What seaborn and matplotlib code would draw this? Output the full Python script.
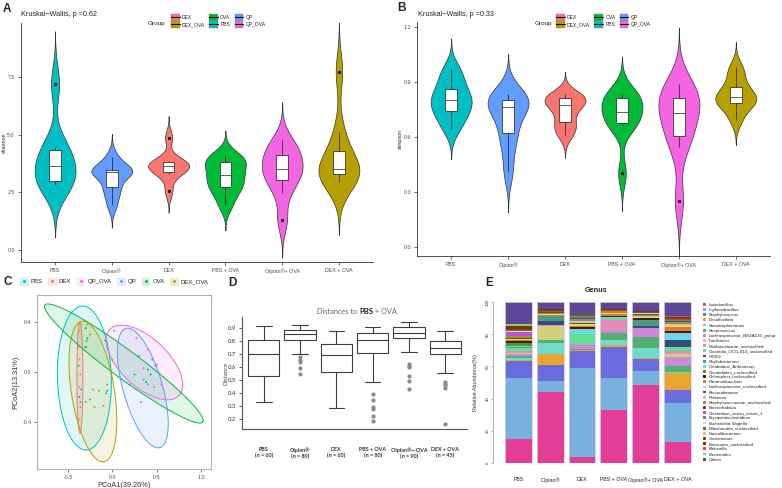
import numpy as np
import pandas as pd
import seaborn as sns
import matplotlib.pyplot as plt
from matplotlib.patches import Patch
from matplotlib.lines import Line2D

# ---------------- groups and colours ----------------
groups = ["PBS", "Oipian®", "DEX", "PBS + OVA", "Oipian®+ OVA", "DEX + OVA"]
group_codes = ["PBS", "QP", "DEX", "OVA", "QP_OVA", "DEX_OVA"]
code_colors = {"DEX": "#F8766D", "DEX_OVA": "#B79F00", "OVA": "#00BA38",
               "PBS": "#00BFC4", "QP": "#619CFF", "QP_OVA": "#F564E3"}
legend_codes = ["DEX", "DEX_OVA", "OVA", "PBS", "QP", "QP_OVA"]

# ---------------- A: shannon per sample ----------------
shannon_pbs = [2.82, 2.90, 3.00, 3.40, 3.90, 4.30, 4.45, 7.20]
shannon_qp = [1.95, 2.50, 2.75, 3.30, 3.37, 3.40, 3.47, 3.55, 4.05]
shannon_dex = [2.56, 3.30, 3.37, 3.60, 3.66, 3.70, 3.80, 3.85, 4.87]
shannon_ova = [1.95, 2.50, 2.75, 3.00, 3.25, 3.50, 3.83, 3.95, 4.07]
shannon_qp_ova = [1.30, 2.49, 3.03, 3.30, 3.50, 3.80, 4.10, 4.40, 4.77]
shannon_dex_ova = [2.96, 3.20, 3.30, 3.40, 3.50, 3.60, 4.31, 5.10, 7.73]

# ---------------- B: simpson per sample ----------------
simpson_pbs = [0.641, 0.700, 0.741, 0.770, 0.800, 0.830, 0.864, 0.920, 0.973]
simpson_qp = [0.410, 0.550, 0.623, 0.700, 0.761, 0.780, 0.804, 0.820, 0.832]
simpson_dex = [0.610, 0.650, 0.683, 0.740, 0.772, 0.790, 0.813, 0.820, 0.832]
simpson_ova = [0.401, 0.665, 0.674, 0.700, 0.737, 0.780, 0.813, 0.825, 0.832]
simpson_qp_ova = [0.252, 0.546, 0.605, 0.680, 0.732, 0.780, 0.810, 0.850, 0.891]
simpson_dex_ova = [0.692, 0.760, 0.783, 0.800, 0.819, 0.840, 0.870, 0.930, 0.982]

# ---------------- C: PCoA points and ellipses ----------------
pcoa_x = {
    "PBS": [-0.37, -0.36, -0.35, -0.07, -0.06, -0.30, -0.29, -0.38, -0.25],
    "DEX": [-0.37, -0.38, -0.37, -0.36, -0.37, -0.38, -0.36, -0.37],
    "QP_OVA": [0.27, 0.40, 0.45, 0.50, 0.55, 0.35, 0.47, 0.00],
    "QP": [0.02, 0.35, 0.48, 0.30, 0.40, 0.32, 0.45, 0.20],
    "OVA": [-0.30, -0.28, -0.30, 0.38, 0.43, 0.25, 0.40, -0.08],
    "DEX_OVA": [-0.28, -0.25, -0.15, -0.22, -0.10, -0.20, -0.30, -0.06],
}
pcoa_y = {
    "PBS": [-0.20, -0.24, -0.14, -0.17, -0.15, 0.20, 0.25, 0.05, -0.22],
    "DEX": [0.33, 0.20, 0.10, -0.02, -0.12, -0.20, -0.28, -0.38],
    "QP_OVA": [0.27, 0.18, 0.10, 0.06, -0.10, 0.03, -0.12, 0.10],
    "QP": [0.33, -0.06, 0.05, 0.13, -0.10, -0.24, 0.10, -0.10],
    "OVA": [0.35, 0.27, 0.20, -0.08, -0.02, -0.02, 0.02, 0.25],
    "DEX_OVA": [0.38, 0.30, -0.15, -0.14, -0.27, -0.28, -0.24, -0.10],
}
ell_groups = ["PBS", "DEX", "QP_OVA", "QP", "OVA", "DEX_OVA"]
ell_cx = [-0.315, -0.365, 0.360, 0.343, 0.129, -0.219]
ell_cy = [-0.048, -0.044, 0.076, -0.128, 0.068, -0.156]
ell_major_x = [0.022, 0.000, 0.389, 0.191, 0.888, 0.124]
ell_major_y = [-0.576, -0.444, -0.265, -0.477, -0.468, -0.562]
ell_minor_x = [-0.303, -0.034, -0.187, -0.213, -0.093, -0.239]
ell_minor_y = [-0.006, 0.000, -0.138, -0.043, -0.090, -0.027]

# ---------------- D: distances to PBS + OVA ----------------
dist_n = [60, 80, 60, 80, 90, 45]
dist_pbs = [0.334, 0.533, 0.701, 0.808, 0.913]
dist_qp = [0.545, 0.595, 0.640, 0.655, 0.675, 0.700, 0.810,
           0.815, 0.820, 0.830, 0.840, 0.845, 0.850,
           0.855, 0.860, 0.865, 0.870, 0.880, 0.885,
           0.890, 0.895, 0.900, 0.910, 0.915, 0.923]
dist_dex = [0.289, 0.559, 0.689, 0.773, 0.877]
dist_ova = [0.187, 0.227, 0.280, 0.292, 0.347, 0.393, 0.485, 0.704,
            0.720, 0.740, 0.760, 0.775, 0.790, 0.800, 0.806,
            0.810, 0.815, 0.825, 0.835, 0.845, 0.850, 0.857,
            0.860, 0.870, 0.880, 0.890, 0.895, 0.900, 0.907]
dist_qp_ova = [0.429, 0.493, 0.533, 0.600, 0.610, 0.620, 0.712, 0.825,
               0.830, 0.835, 0.840, 0.845, 0.850, 0.855, 0.857,
               0.860, 0.865, 0.870, 0.880, 0.890, 0.895, 0.902,
               0.905, 0.910, 0.920, 0.925, 0.930, 0.940, 0.946]
dist_dex_ova = [0.162, 0.437, 0.460, 0.470, 0.483, 0.556, 0.697,
                0.700, 0.710, 0.720, 0.730, 0.735, 0.742,
                0.750, 0.760, 0.770, 0.780, 0.790, 0.798,
                0.810, 0.820, 0.840, 0.860, 0.870, 0.877]

# ---------------- E: genus relative abundance (%) ----------------
genus_names = ["Lactobacillus", "Ligilactobacillus", "Staphylococcus", "Desulfovibrio",
               "Stenotrophomonas", "Streptococcus", "Lachnospiraceae_NK4A136_group",
               "Turicibacter", "Muribaculaceae_unclassified", "Clostridia_UCG-014_unclassified",
               "HT002", "Phyllobacterium", "Candidatus_Arthromitus", "Clostridiales_unclassified",
               "Chloroplast_unclassified", "Paramuribaculum", "Lachnospiraceae_unclassified",
               "Brevundimonas", "Ralstonia", "Staphylococcaceae_unclassified", "Enterorhabdus",
               "Clostridium_sensu_stricto_1", "Erysipelatoclostridium", "Escherichia-Shigella",
               "Mitochondria_unclassified", "Faecalibacterium", "Comamonas",
               "Firmicutes_unclassified", "Klebsiella", "Bacteroides", "Others"]
genus_colors = ["#E23E97", "#78B2DC", "#6B6BDE", "#E8A530", "#6EDCCB", "#55AE72", "#C98AD9",
                "#D3CF80", "#E48BBE", "#5EE396", "#384C7C", "#4A9B86", "#6FD7EA", "#4C9A2C",
                "#4A1C0E", "#E07840", "#E8E03E", "#2E6B40", "#CBB4EA", "#A88C3C", "#5C4B66",
                "#D545E0", "#4B8FA3", "#D2E2D2", "#A3532E", "#F1B3C2", "#3C6A1E", "#A11C1C",
                "#E44455", "#70E044", "#5D4797"]
abund_pbs = [14.8, 38.0, 10.8, 0.3, 1.5, 1.2, 1.0, 0.5, 1.7, 1.5, 0.3, 0.5, 0.5, 2.0, 1.0, 0.5,
             0.8, 0.5, 0.4, 0.8, 0.4, 2.0, 0.5, 0.3, 0.6, 0.3, 0.6, 1.5, 0.5, 1.2, 13.5]
abund_qp = [43.9, 7.3, 9.9, 6.3, 7.3, 2.0, 0.0, 8.3, 1.0, 0.0, 2.0, 3.0, 0.0, 0.0, 0.4, 0.6,
            0.3, 0.0, 0.0, 1.0, 0.5, 0.0, 0.0, 0.0, 0.5, 0.3, 0.4, 0.4, 0.3, 0.0, 4.3]
abund_dex = [3.6, 55.5, 10.6, 0.5, 0.0, 0.5, 2.5, 0.0, 0.7, 6.2, 0.0, 0.0, 2.9, 0.0, 1.2, 0.8,
             1.5, 0.6, 0.8, 1.5, 0.8, 0.0, 0.8, 0.0, 0.8, 0.0, 0.5, 0.5, 0.0, 0.0, 7.2]
abund_ova = [33.1, 19.5, 19.3, 1.7, 3.1, 4.2, 1.2, 0.0, 6.9, 0.8, 0.0, 0.0, 0.6, 0.0, 0.6, 1.5,
             0.8, 0.0, 0.0, 0.8, 0.0, 0.0, 0.6, 0.0, 0.6, 0.0, 0.0, 0.6, 0.0, 0.0, 4.1]
abund_qp_ova = [48.2, 8.8, 7.3, 1.0, 6.2, 6.9, 5.0, 0.0, 0.6, 0.0, 1.0, 3.7, 0.0, 0.0, 1.2, 0.0,
                0.8, 0.0, 0.6, 0.8, 0.6, 0.0, 0.0, 0.5, 0.0, 0.0, 0.6, 0.6, 0.0, 0.0, 5.6]
abund_dex_ova = [12.9, 24.3, 8.3, 10.5, 0.4, 4.1, 5.2, 2.1, 2.0, 2.1, 4.8, 0.0, 4.0, 0.0, 1.0, 2.7,
                 1.2, 0.4, 0.6, 1.0, 0.6, 0.0, 0.6, 0.0, 0.8, 0.0, 0.5, 0.8, 0.4, 0.0, 8.7]

# ---------------- build tables ----------------
group_palette = {g: code_colors[c] for g, c in zip(groups, group_codes)}
shannon_lists = [shannon_pbs, shannon_qp, shannon_dex, shannon_ova, shannon_qp_ova, shannon_dex_ova]
simpson_lists = [simpson_pbs, simpson_qp, simpson_dex, simpson_ova, simpson_qp_ova, simpson_dex_ova]
dist_lists = [dist_pbs, dist_qp, dist_dex, dist_ova, dist_qp_ova, dist_dex_ova]
shannon_df = pd.DataFrame([(g, v) for g, vals in zip(groups, shannon_lists) for v in vals],
                          columns=["group", "shannon"])
simpson_df = pd.DataFrame([(g, v) for g, vals in zip(groups, simpson_lists) for v in vals],
                          columns=["group", "simpson"])
dist_df = pd.DataFrame([(g, v) for g, vals in zip(groups, dist_lists) for v in vals],
                       columns=["group", "distance"])
pcoa_df = pd.DataFrame([(k, x, y) for k in pcoa_x for x, y in zip(pcoa_x[k], pcoa_y[k])],
                       columns=["group", "PC1", "PC2"])
genus_table = np.array([abund_pbs, abund_qp, abund_dex, abund_ova, abund_qp_ova, abund_dex_ova]).T

sns.set_theme(style="white")
plt.rcParams["font.family"] = ["Liberation Sans", "DejaVu Sans"]
plt.rcParams["axes.linewidth"] = 0.5

W, H = 782, 488
fig = plt.figure(figsize=(W / 100, H / 100), dpi=100)


def add_ax(left, top, right, bottom):
    return fig.add_axes([left / W, 1 - bottom / H, (right - left) / W, (bottom - top) / H])


def violin_panel(ax, df, col, ylim, yticks, ylabels):
    sns.violinplot(data=df, x="group", y=col, hue="group", order=groups, hue_order=groups,
                   palette=group_palette, inner=None, width=0.72, cut=3, bw_adjust=0.8,
                   linewidth=0.5, linecolor="#333333", saturation=1, legend=False, ax=ax)
    sns.boxplot(data=df, x="group", y=col, order=groups, width=0.2, color="white",
                linecolor="#1a1a1a", linewidth=0.5, fliersize=1.3, saturation=1,
                flierprops=dict(marker="o", markerfacecolor="black", markeredgecolor="black"),
                capprops=dict(alpha=0), ax=ax)
    ax.set_xlim(-0.6, 5.6)
    ax.set_ylim(*ylim)
    ax.set_yticks(yticks, ylabels)
    ax.set_xticks(range(len(groups)), groups)
    ax.set_xlabel("")
    ax.set_ylabel(col, fontsize=3.8, color="#222222")
    ax.yaxis.set_label_coords(-0.04, 0.5)
    sns.despine(ax=ax)
    for s in ["left", "bottom"]:
        ax.spines[s].set_color("#333333")
        ax.spines[s].set_linewidth(0.6)
    ax.tick_params(left=True, bottom=True, length=2, width=0.5, color="#333333",
                   labelsize=3.8, labelcolor="#4d4d4d", pad=2.5)


def group_legend(x_title, x_keys, y_top):
    handles = [(Patch(facecolor=code_colors[c], edgecolor="#888888", linewidth=0.3),
                Line2D([], [], color="black", linewidth=0.8)) for c in legend_codes]
    fig.legend(handles, legend_codes, loc="upper left",
               bbox_to_anchor=(x_keys / W, 1 - y_top / H), ncol=3, frameon=False,
               fontsize=3.6, handlelength=1.7, handleheight=1.8, labelspacing=0.05,
               columnspacing=0.8, handletextpad=0.5, borderpad=0, borderaxespad=0)
    fig.text(x_title / W, 1 - (y_top + 10) / H, "Group", fontsize=4.6, va="center")


# ---------------- panel A ----------------
axA = add_ax(21, 23, 373, 262)
violin_panel(axA, shannon_df, "shannon", (-0.52, 9.84), [0, 2.5, 5, 7.5],
             ["0.0", "2.5", "5.0", "7.5"])
fig.text(21 / W, 1 - 14 / H, "Kruskal\u2212Wallis, p =0.62", fontsize=5.2, va="center")
fig.text(3 / W, 1 - 9 / H, "A", fontsize=8.5, weight="bold", va="center")
group_legend(148, 171, 14)

# ---------------- panel B ----------------
axB = add_ax(417, 22, 770, 256)
violin_panel(axB, simpson_df, "simpson", (-0.049, 1.227), [0, 0.3, 0.6, 0.9, 1.2],
             ["0.0", "0.3", "0.6", "0.9", "1.2"])
fig.text(418 / W, 1 - 14 / H, "Kruskal\u2212Wallis, p =0.33", fontsize=5.2, va="center")
fig.text(397 / W, 1 - 8 / H, "B", fontsize=8.5, weight="bold", va="center")
group_legend(535, 556, 14)

# ---------------- panel C ----------------
axC = add_ax(37, 295, 211, 469)
t = np.linspace(0, 2 * np.pi, 200)
for g, cx, cy, mx, my, nx, ny in zip(ell_groups, ell_cx, ell_cy, ell_major_x, ell_major_y,
                                     ell_minor_x, ell_minor_y):
    ex = cx + mx * np.cos(t) + nx * np.sin(t)
    ey = cy + my * np.cos(t) + ny * np.sin(t)
    axC.fill(ex, ey, color=code_colors[g], alpha=0.12, linewidth=0)
    axC.plot(ex, ey, color=code_colors[g], linewidth=0.7)
sns.scatterplot(data=pcoa_df, x="PC1", y="PC2", hue="group", palette=code_colors, s=2,
                linewidth=0, legend=False, ax=axC)
axC.set_xlim(-0.848, 1.11)
axC.set_ylim(-0.776, 0.616)
axC.set_xticks([-0.5, 0.0, 0.5, 1.0], ["-0.5", "0.0", "0.5", "1.0"])
axC.set_yticks([-0.4, 0.0, 0.4], ["-0.4", "0.0", "0.4"])
axC.set_xlabel("PCoA1(39.26%)", fontsize=5.3, color="#333333", labelpad=1.5)
axC.set_ylabel("PCoA2(13.31%)", fontsize=5.3, color="#333333", labelpad=2)
for s in axC.spines.values():
    s.set_color("#b3b3b3")
    s.set_linewidth(0.8)
axC.tick_params(left=True, bottom=True, length=2, width=0.5, color="#555555",
                labelsize=3.8, labelcolor="#4d4d4d", pad=2)
c_handles = [(Patch(facecolor=code_colors[g], alpha=0.18, edgecolor=code_colors[g], linewidth=0.5),
              Line2D([], [], marker="s", markersize=1, color=code_colors[g], linestyle="none"))
             for g in ell_groups]
fig.legend(c_handles, ell_groups, loc="upper left", bbox_to_anchor=(20 / W, 1 - 278 / H),
           ncol=6, frameon=False, fontsize=4.3, handlelength=1.3, handleheight=1.3,
           columnspacing=0.9, handletextpad=0.5, borderpad=0, borderaxespad=0)
fig.text(4 / W, 1 - 282 / H, "C", fontsize=8.5, weight="bold", va="center")

# ---------------- panel D ----------------
axD = add_ax(242, 317, 467, 429)
sns.boxplot(data=dist_df, x="group", y="distance", order=groups, width=0.86, color="white",
            linecolor="#3d3d3d", linewidth=0.8, fliersize=2, saturation=1,
            flierprops=dict(marker="o", markerfacecolor="#8a8a8a", markeredgecolor="#8a8a8a"),
            ax=axD)
axD.set_xlim(-0.6, 5.6)
axD.set_ylim(0.126, 0.982)
yt = [0.2, 0.3, 0.4, 0.5, 0.6, 0.7, 0.8, 0.9]
axD.set_yticks(yt, [f"{v:.1f}" for v in yt], family="Lato")
axD.set_xticks(range(len(groups)), [f"{g}\n(n = {n})" for g, n in zip(groups, dist_n)],
               family="Lato", weight="bold")
axD.set_xlabel("")
axD.set_ylabel("Distance", fontsize=4.3, family="Lato", color="#444444")
axD.yaxis.set_label_coords(-0.058, 0.5)
sns.despine(ax=axD)
for s in ["left", "bottom"]:
    axD.spines[s].set_color("#555555")
    axD.spines[s].set_linewidth(0.8)
axD.tick_params(axis="y", left=True, length=2, width=0.5, labelsize=4.3,
                labelcolor="#333333", pad=2)
axD.tick_params(axis="x", bottom=False, labelsize=3.9, labelcolor="#333333", pad=7)
t1 = fig.text(317 / W, 1 - 311 / H, "Distances to ", fontsize=5.3, color="#666666",
              family="Lato", va="center")
t2 = axD.annotate("PBS", xy=(1, 0), xycoords=t1, va="bottom", fontsize=5.6,
                  weight="bold", family="Lato", color="#222222", annotation_clip=False)
axD.annotate(" + OVA", xy=(1, 0), xycoords=t2, va="bottom", fontsize=5.3,
             family="Lato", color="#666666", annotation_clip=False)
fig.text(228 / W, 1 - 283 / H, "D", fontsize=8.5, weight="bold", va="center")

# ---------------- panel E ----------------
axE = add_ax(493, 302, 700, 463)
xpos = np.arange(len(groups))
bottom = np.zeros(len(groups))
for name, color, row in zip(genus_names, genus_colors, genus_table):
    axE.bar(xpos, row, bottom=bottom, width=0.84, color=color, linewidth=0, label=name)
    bottom += row
axE.bar(xpos, bottom, width=0.84, facecolor="none", edgecolor="#d6cdea", linewidth=0.6)
axE.set_xlim(-0.8, 5.71)
axE.set_ylim(0, 100)
axE.set_yticks([0, 20, 40, 60, 80, 100], ["0", "20", "40", "60", "80", "100"])
axE.set_xticks(xpos, groups)
for lab in axE.get_yticklabels():
    lab.set_rotation(90)
    lab.set_va("center")
for s in ["top", "right", "bottom"]:
    axE.spines[s].set_visible(False)
axE.spines["left"].set_color("#777777")
axE.spines["left"].set_linewidth(0.4)
axE.tick_params(axis="y", left=True, length=1.5, width=0.4, color="#777777",
                labelsize=3.2, labelcolor="#333333", pad=1)
axE.tick_params(axis="x", bottom=False, labelsize=3.8, labelcolor="#222222", pad=4)
axE.set_ylabel("Relative Abundance(%)", fontsize=3.9, color="#333333")
axE.yaxis.set_label_coords(-0.072, 0.5)
axE.set_title("Genus", fontsize=5.2, weight="bold", pad=7)
e_handles = [Patch(facecolor=c, edgecolor="none") for c in genus_colors]
fig.legend(e_handles, genus_names, loc="upper left", bbox_to_anchor=(703 / W, 1 - 303 / H),
           frameon=False, fontsize=3.2, handlelength=0.6, handleheight=0.6,
           labelspacing=0.26, handletextpad=0.6, borderpad=0, borderaxespad=0)
fig.text(485 / W, 1 - 283 / H, "E", fontsize=8.5, weight="bold", va="center")

fig.savefig("out.png", dpi=100)
